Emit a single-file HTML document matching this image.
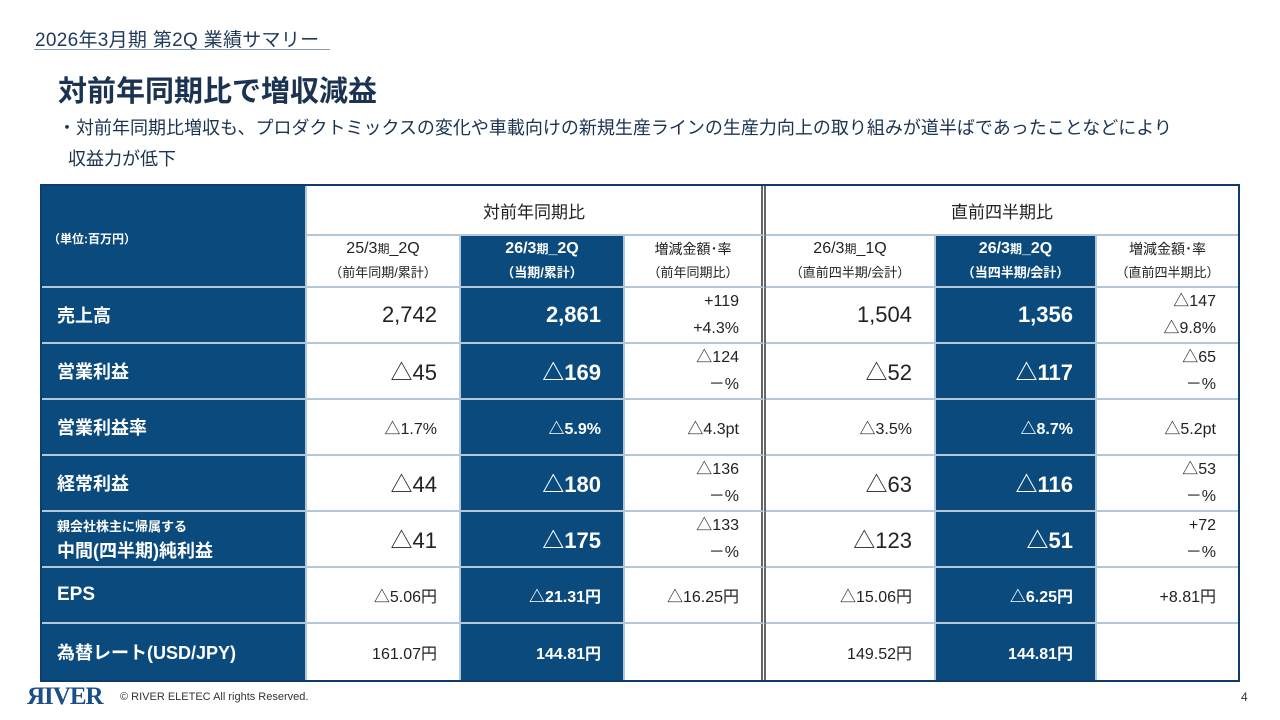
<!DOCTYPE html>
<html><head><meta charset="utf-8">
<style>
*{margin:0;padding:0;box-sizing:border-box}
body{width:1280px;height:720px;background:#fff;position:relative;overflow:hidden;font-family:"Liberation Sans","Noto Sans CJK JP",sans-serif;color:#222}
.abs{position:absolute}
#grid{position:absolute;left:40px;top:184px;width:1200px;height:498px;border:2px solid #0c3d6b;background:#fff;display:grid;
grid-template-columns:265px 154px 164px 141px 170px 161px 141px;
grid-template-rows:50px 52px 56px 56px 56px 56px 56px 56px 56px}
.c{border-right:2px solid #b3c7da;border-bottom:2px solid #b3c7da;display:flex;align-items:center;justify-content:flex-end;padding-right:22px;font-size:22px;color:#222;text-align:right}
.n{background:#0b4a7c;color:#fff;font-weight:bold}
.lab{background:#0b4a7c;color:#fff;font-weight:bold;justify-content:flex-start;padding-left:15px;font-size:18px}
.sm{font-size:16px;line-height:27px;flex-direction:column;align-items:flex-end;justify-content:center;padding-right:22px}
.mid{font-size:16px}
.hd{justify-content:center;padding:0;font-size:17px}
.sub{flex-direction:column;justify-content:center;align-items:center;padding:0;font-size:13px;line-height:24px;text-align:center}
.sub small{font-size:12px}
.dbl{border-right:5px double #666}
</style></head><body>
<div class="abs" style="left:35px;top:25px;font-size:19px;color:#1f3a5a;letter-spacing:0.3px">2026年3月期 第2Q 業績サマリー</div>
<div class="abs" style="left:34px;top:49px;width:296px;height:1px;background:#8a9cb0"></div>
<div class="abs" style="left:58px;top:68px;font-size:29px;font-weight:bold;color:#1b3350">対前年同期比で増収減益</div>
<div class="abs" style="left:58px;top:113px;font-size:18px;line-height:31px;color:#1b3350;white-space:nowrap">・対前年同期比増収も、プロダクトミックスの変化や車載向けの新規生産ラインの生産力向上の取り組みが道半ばであったことなどにより<br>&nbsp;&nbsp;収益力が低下</div>

<div id="grid">
<div class="c lab" style="grid-row:1/3;align-items:flex-start;padding-top:44px;padding-left:6px;font-size:12px">（単位:百万円）</div>
<div class="c hd" style="grid-column:2/5;border-right:5px double #666">対前年同期比</div>
<div class="c hd" style="grid-column:5/8;border-right:none">直前四半期比</div>
<div class="c sub"><span style="font-size:16px">25/3<small>期</small>_2Q</span><small style="font-size:13px">（前年同期/累計）</small></div>
<div class="c sub n"><span style="font-size:16px">26/3<small>期</small>_2Q</span><small style="font-size:13px">（当期/累計）</small></div>
<div class="c sub dbl"><small style="font-size:14px">増減金額･率</small><small style="font-size:13px">（前年同期比）</small></div>
<div class="c sub"><span style="font-size:16px">26/3<small>期</small>_1Q</span><small style="font-size:13px">（直前四半期/会計）</small></div>
<div class="c sub n"><span style="font-size:16px">26/3<small>期</small>_2Q</span><small style="font-size:13px">（当四半期/会計）</small></div>
<div class="c sub" style="border-right:none"><small style="font-size:14px">増減金額･率</small><small style="font-size:13px">（直前四半期比）</small></div>

<div class="c lab">売上高</div>
<div class="c">2,742</div><div class="c n">2,861</div>
<div class="c sm dbl"><span>+119</span><span>+4.3%</span></div>
<div class="c">1,504</div><div class="c n">1,356</div>
<div class="c sm" style="border-right:none"><span>△147</span><span>△9.8%</span></div>

<div class="c lab">営業利益</div>
<div class="c">△45</div><div class="c n">△169</div>
<div class="c sm dbl"><span>△124</span><span>－%</span></div>
<div class="c">△52</div><div class="c n">△117</div>
<div class="c sm" style="border-right:none"><span>△65</span><span>－%</span></div>

<div class="c lab">営業利益率</div>
<div class="c mid">△1.7%</div><div class="c n mid">△5.9%</div>
<div class="c mid dbl">△4.3pt</div>
<div class="c mid">△3.5%</div><div class="c n mid">△8.7%</div>
<div class="c mid" style="border-right:none">△5.2pt</div>

<div class="c lab">経常利益</div>
<div class="c">△44</div><div class="c n">△180</div>
<div class="c sm dbl"><span>△136</span><span>－%</span></div>
<div class="c">△63</div><div class="c n">△116</div>
<div class="c sm" style="border-right:none"><span>△53</span><span>－%</span></div>

<div class="c lab" style="flex-direction:column;align-items:flex-start;justify-content:center;line-height:24px"><span style="font-size:13px">親会社株主に帰属する</span><span>中間(四半期)純利益</span></div>
<div class="c">△41</div><div class="c n">△175</div>
<div class="c sm dbl"><span>△133</span><span>－%</span></div>
<div class="c">△123</div><div class="c n">△51</div>
<div class="c sm" style="border-right:none"><span>+72</span><span>－%</span></div>

<div class="c lab" style="font-size:19px">EPS</div>
<div class="c mid">△5.06円</div><div class="c n mid">△21.31円</div>
<div class="c mid dbl">△16.25円</div>
<div class="c mid">△15.06円</div><div class="c n mid">△6.25円</div>
<div class="c mid" style="border-right:none">+8.81円</div>

<div class="c lab" style="border-bottom:none">為替レート(USD/JPY)</div>
<div class="c mid" style="border-bottom:none">161.07円</div><div class="c n mid" style="border-bottom:none">144.81円</div>
<div class="c mid dbl" style="border-bottom:none"></div>
<div class="c mid" style="border-bottom:none">149.52円</div><div class="c n mid" style="border-bottom:none">144.81円</div>
<div class="c mid" style="border:none"></div>
</div>

<div class="abs" style="left:27px;top:683px;font-family:'Liberation Serif',serif;font-weight:bold;font-size:25px;color:#1a4f8a;letter-spacing:-1px">ЯIVER</div>
<div class="abs" style="left:120px;top:691px;font-size:11px;color:#333">© RIVER ELETEC All rights Reserved.</div>
<div class="abs" style="left:1241px;top:690px;font-size:12px;color:#333">4</div>
</body></html>
